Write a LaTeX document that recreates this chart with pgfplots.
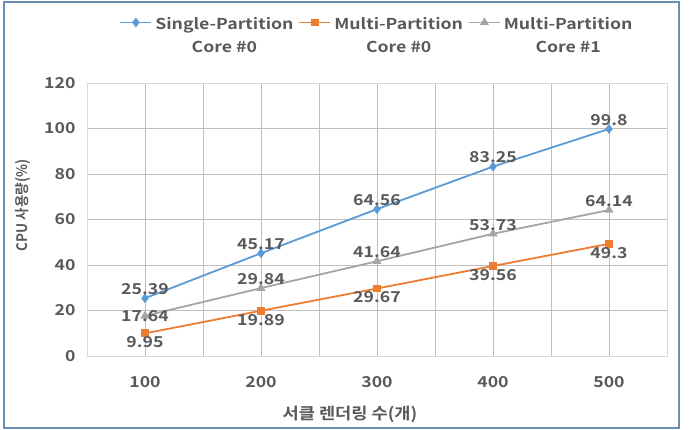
\documentclass[border=0pt]{standalone}
\usepackage{pgfplots}
\pgfplotsset{compat=1.18}
\usepackage{fontspec}
\setmainfont{Noto Sans CJK KR}[BoldFont={Noto Sans CJK KR Bold}, FakeStretch=1.18]
\newfontfamily\kr{Noto Sans CJK KR}[BoldFont={Noto Sans CJK KR Bold}, FakeStretch=1.1]
\newfontfamily\kry{Noto Sans CJK KR}[BoldFont={Noto Sans CJK KR Bold}, FakeStretch=0.93]
\definecolor{sblue}{HTML}{5B9BD5}
\definecolor{sorange}{HTML}{ED7D31}
\definecolor{sgray}{HTML}{A5A5A5}
\definecolor{txt}{HTML}{595959}
\definecolor{grid}{HTML}{D9D9D9}
\definecolor{frame}{HTML}{6A8FB5}
\begin{document}
\begin{tikzpicture}[x=1pt,y=1pt]
\path (0,0) rectangle (695,430);
\draw[frame, line width=1.8pt] (4,2) rectangle (679,428);
\begin{axis}[
  at={(87pt,74pt)}, anchor=south west,
  scale only axis, width=580pt, height=273pt,
  xmin=0.5, xmax=5.5, ymin=0, ymax=120,
  xtick={1,2,3,4,5}, xticklabels={100,200,300,400,500},
  ytick={0,20,40,60,80,100,120},
  minor xtick={1.5,2.5,3.5,4.5},
  xminorgrids=true,
  minor grid style={grid, line width=0.8pt},
  major tick length=0pt, minor tick length=0pt,
  axis line style={grid, line width=0.8pt},
  /pgf/number format/assume math mode=true,
  ticklabel style={font=\fontsize{15}{17}\selectfont\bfseries, text=txt},
  xticklabel style={yshift=-17pt},
  yticklabel style={xshift=-8pt},
  xlabel={\kr 서클 렌더링 수(개)},
  ylabel={\kry CPU 사용량(\%)},
  xlabel style={font=\fontsize{16}{18}\selectfont\bfseries, text=txt, yshift=-11pt, xshift=-27pt},
  ylabel style={font=\fontsize{14.5}{16}\selectfont\bfseries, text=txt, yshift=7pt, xshift=14pt},
  nodes near coords,
  point meta=explicit symbolic,
  every node near coord/.append style={font=\fontsize{15}{17}\selectfont\bfseries, text=txt, inner sep=2.5pt},
  legend columns=3,
  legend image code/.code={\draw[mark repeat=2,mark phase=2] plot coordinates {(0pt,0pt) (15.5pt,0pt) (31pt,0pt)};},
  legend style={at={(0.5,1.269)}, anchor=north, draw=none, fill=none,
    font=\fontsize{15}{23}\selectfont\bfseries, text=txt,
    /tikz/every odd column/.append style={column sep=1pt},
    /tikz/every even column/.append style={column sep=3pt}},
  legend cell align=center,
]
\addplot[sblue, line width=1.8pt, mark=diamond*, mark size=3.5pt, mark options={fill=sblue}]
  coordinates {(1,25.39)[25.39] (2,45.17)[45.17] (3,64.56)[64.56] (4,83.25)[83.25] (5,99.8)[99.8]};
\addlegendentry{\begin{tabular}[t]{@{}c@{}}Single-Partition\\Core \#0\end{tabular}}
\addplot[sorange, line width=1.8pt, mark=square*, mark size=3pt, mark options={fill=sorange},
  nodes near coords align={below}]
  coordinates {(1,9.95)[9.95] (2,19.89)[19.89] (3,29.67)[29.67] (4,39.56)[39.56] (5,49.3)[49.3]};
\addlegendentry{\begin{tabular}[t]{@{}c@{}}Multi-Partition\\Core \#0\end{tabular}}
\addplot[sgray, line width=1.8pt, mark=triangle*, mark size=3.5pt, mark options={fill=sgray}]
  coordinates {(1,17.64)[] (2,29.84)[29.84] (3,41.64)[41.64] (4,53.73)[53.73] (5,64.14)[64.14]};
\addlegendentry{\begin{tabular}[t]{@{}c@{}}Multi-Partition\\Core \#1\end{tabular}}
\addplot[draw=none, forget plot, nodes near coords align={center}]
  coordinates {(1,17.64)[17.64]};
\end{axis}
\end{tikzpicture}
\end{document}
